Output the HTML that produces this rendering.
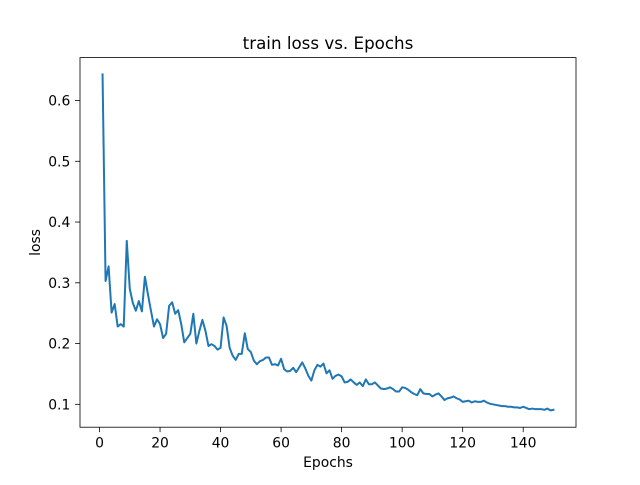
<!DOCTYPE html>
<html><head><meta charset="utf-8"><style>
html,body{margin:0;padding:0;background:#fff;}
svg text{font-family:"DejaVu Sans","Liberation Sans",sans-serif;fill:#000;}
</style></head><body>
<svg id="chart" width="640" height="480" viewBox="0 0 640 480" xmlns="http://www.w3.org/2000/svg">
<rect width="640" height="480" fill="#fff"/>
<text x="328" y="49" font-size="16.7" text-anchor="middle">train loss vs. Epochs</text>
<g id="plot"></g>
<rect x="80" y="57.6" width="496" height="369.6" fill="none" stroke="#000" stroke-width="0.8"/>
<text x="328" y="467" font-size="13.9" text-anchor="middle">Epochs</text>
<text transform="translate(40,242.4) rotate(-90)" font-size="13.9" text-anchor="middle">loss</text>
</svg>
<script>
const lossValues = [0.643,0.303,0.327,0.251,0.265,0.228,0.232,0.228,0.369,0.290,
0.267,0.254,0.270,0.253,0.310,0.281,0.254,0.228,0.240,0.232,
0.209,0.216,0.262,0.268,0.249,0.255,0.232,0.202,0.209,0.216,
0.249,0.200,0.221,0.239,0.221,0.196,0.199,0.196,0.190,0.193,
0.243,0.229,0.193,0.180,0.173,0.183,0.183,0.217,0.191,0.186,
0.172,0.166,0.171,0.173,0.177,0.177,0.165,0.166,0.164,0.175,
0.158,0.154,0.155,0.160,0.153,0.161,0.169,0.159,0.147,0.139,
0.156,0.165,0.162,0.167,0.151,0.156,0.142,0.147,0.149,0.146,
0.136,0.137,0.141,0.136,0.132,0.136,0.130,0.141,0.133,0.133,
0.136,0.131,0.126,0.125,0.126,0.128,0.125,0.121,0.121,0.128,
0.127,0.124,0.120,0.117,0.115,0.125,0.118,0.117,0.117,0.113,
0.116,0.118,0.113,0.107,0.110,0.111,0.113,0.110,0.108,0.104,
0.105,0.106,0.103,0.105,0.104,0.104,0.106,0.103,0.101,0.100,
0.099,0.098,0.097,0.097,0.096,0.096,0.095,0.095,0.094,0.096,
0.094,0.092,0.093,0.092,0.092,0.092,0.091,0.093,0.090,0.091];
const epochs = lossValues.map((v,i)=>i+1);
const xTicks = [0,20,40,60,80,100,120,140];
const yTicks = [0.1,0.2,0.3,0.4,0.5,0.6];

const AX={l:80,r:576,t:57.6,b:427.2};
const xmin0=Math.min(...epochs), xmax0=Math.max(...epochs);
const ymin0=Math.min(...lossValues), ymax0=Math.max(...lossValues);
const xm=(xmax0-xmin0)*0.05, ym=(ymax0-ymin0)*0.05;
const xLo=xmin0-xm, xHi=xmax0+xm, yLo=ymin0-ym, yHi=ymax0+ym;
const sx=v=>AX.l+(v-xLo)/(xHi-xLo)*(AX.r-AX.l);
const sy=v=>AX.b-(v-yLo)/(yHi-yLo)*(AX.b-AX.t);
const NS='http://www.w3.org/2000/svg';
const g=document.getElementById('plot');
function mk(tag,attrs){const e=document.createElementNS(NS,tag);for(const k in attrs)e.setAttribute(k,attrs[k]);return e;}
xTicks.forEach(t=>{
  const x=sx(t);
  const ln=mk('line',{x1:x,x2:x,y1:AX.b,y2:AX.b+4.9,stroke:'#000','stroke-width':0.8});
  
  
  g.appendChild(ln);
  const tx=mk('text',{x:x,y:AX.b+20.5,'font-size':13.9,'text-anchor':'middle'});
  
  
  tx.textContent=String(t);g.appendChild(tx);
});
yTicks.forEach(t=>{
  const y=sy(t);
  const ln=mk('line',{x1:AX.l-4.9,x2:AX.l,y1:y,y2:y,stroke:'#000','stroke-width':0.8});
  
  
  g.appendChild(ln);
  const tx=mk('text',{x:AX.l-9.7,y:y+5,'font-size':13.9,'text-anchor':'end'});
  
  
  tx.textContent=t.toFixed(1);g.appendChild(tx);
});
const pts=lossValues.map((v,i)=>sx(epochs[i]).toFixed(2)+','+sy(v).toFixed(2)).join(' ');
const line=mk('polyline',{points:pts,fill:'none',stroke:'#1f77b4','stroke-width':2,'stroke-linejoin':'round','stroke-linecap':'square'});


g.appendChild(line);
</script>
</body></html>
